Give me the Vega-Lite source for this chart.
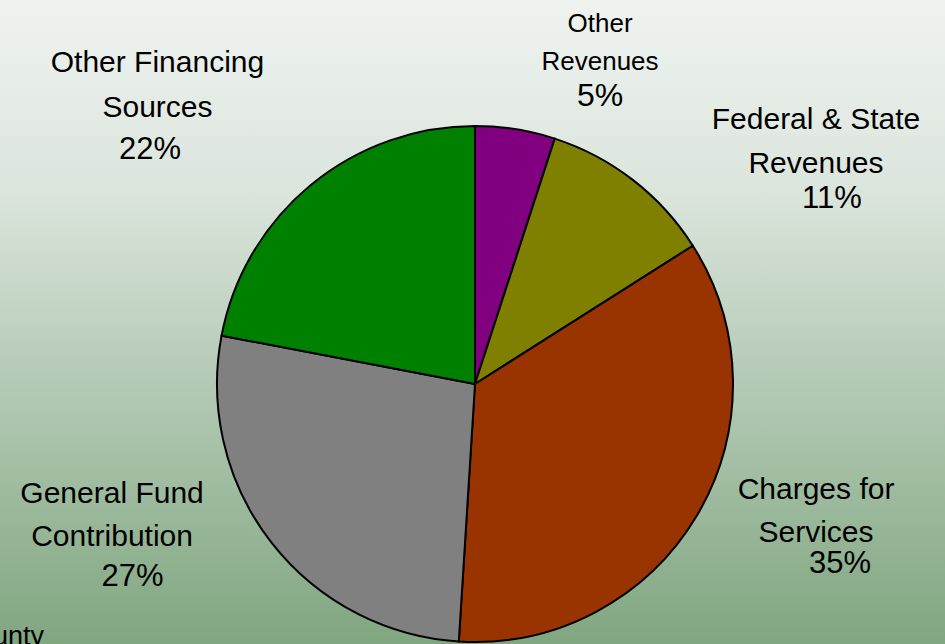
{
  "$schema": "https://vega.github.io/schema/vega-lite/v6.json",
  "width": 945,
  "height": 644,
  "autosize": {"type": "none"},
  "padding": 0,
  "background": "#c3d4c4",
  "config": {
    "view": {"stroke": null},
    "text": {"font": "Liberation Sans, Arial, sans-serif", "color": "#000000"}
  },
  "data": {
    "values": [
      {"category": "Other Revenues", "label": "Other\nRevenues", "value": 0.05, "rank": 1},
      {"category": "Federal & State Revenues", "label": "Federal & State\nRevenues", "value": 0.11, "rank": 2},
      {"category": "Charges for Services", "label": "Charges for\nServices", "value": 0.35, "rank": 3},
      {"category": "General Fund Contribution", "label": "General Fund\nContribution", "value": 0.27, "rank": 4},
      {"category": "Other Financing Sources", "label": "Other Financing\nSources", "value": 0.22, "rank": 5}
    ]
  },
  "layer": [
    {
      "data": {"values": [{"panel": "background"}]},
      "mark": {
        "type": "rect",
        "color": {
          "gradient": "linear",
          "x1": 0, "y1": 0, "x2": 0, "y2": 1,
          "stops": [
            {"offset": 0, "color": "#eff3f0"},
            {"offset": 0.3, "color": "#dbe5dc"},
            {"offset": 0.6, "color": "#b3c9b4"},
            {"offset": 1, "color": "#80a680"}
          ]
        }
      },
      "encoding": {
        "x": {"value": 0},
        "x2": {"value": "width"},
        "y": {"value": 0},
        "y2": {"value": "height"}
      }
    },
    {
      "mark": {"type": "arc", "radius": 258, "stroke": "#000000", "strokeWidth": 2, "xOffset": 2.5, "yOffset": 62},
      "encoding": {
        "theta": {"field": "value", "type": "quantitative", "stack": true, "scale": {"domain": [0, 1]}},
        "order": {"field": "rank", "type": "quantitative"},
        "color": {
          "field": "category", "type": "nominal", "legend": null,
          "scale": {
            "domain": ["Other Revenues", "Federal & State Revenues", "Charges for Services", "General Fund Contribution", "Other Financing Sources"],
            "range": ["#800080", "#808000", "#993300", "#808080", "#008000"]
          }
        }
      }
    },
    {
      "mark": {"type": "text", "radius": 300, "dx": 80.6, "dy": 6.3, "fontSize": 26, "align": "center", "baseline": "alphabetic", "lineBreak": "\n", "lineHeight": 38},
      "encoding": {
        "theta": {"field": "value", "type": "quantitative", "stack": true},
        "order": {"field": "rank", "type": "quantitative"},
        "text": {"condition": {"test": "datum.rank === 1", "field": "label"}, "value": ""}
      }
    },
    {
      "mark": {"type": "text", "radius": 300, "dx": 80.6, "dy": 80.3, "fontSize": 32, "align": "center", "baseline": "alphabetic"},
      "encoding": {
        "theta": {"field": "value", "type": "quantitative", "stack": true},
        "order": {"field": "rank", "type": "quantitative"},
        "text": {"condition": {"test": "datum.rank === 1", "field": "value", "format": ".0%"}, "value": ""}
      }
    },
    {
      "mark": {"type": "text", "radius": 300, "dx": 159.6, "dy": 44.1, "fontSize": 30, "align": "center", "baseline": "alphabetic", "lineBreak": "\n", "lineHeight": 44},
      "encoding": {
        "theta": {"field": "value", "type": "quantitative", "stack": true},
        "order": {"field": "rank", "type": "quantitative"},
        "text": {"condition": {"test": "datum.rank === 2", "field": "label"}, "value": ""}
      }
    },
    {
      "mark": {"type": "text", "radius": 300, "dx": 175.6, "dy": 123.1, "fontSize": 31, "align": "center", "baseline": "alphabetic"},
      "encoding": {
        "theta": {"field": "value", "type": "quantitative", "stack": true},
        "order": {"field": "rank", "type": "quantitative"},
        "text": {"condition": {"test": "datum.rank === 2", "field": "value", "format": ".0%"}, "value": ""}
      }
    },
    {
      "mark": {"type": "text", "radius": 300, "dx": 85.3, "dy": 24.3, "fontSize": 30, "align": "center", "baseline": "alphabetic", "lineBreak": "\n", "lineHeight": 43},
      "encoding": {
        "theta": {"field": "value", "type": "quantitative", "stack": true},
        "order": {"field": "rank", "type": "quantitative"},
        "text": {"condition": {"test": "datum.rank === 3", "field": "label"}, "value": ""}
      }
    },
    {
      "mark": {"type": "text", "radius": 300, "dx": 109.3, "dy": 98.3, "fontSize": 31, "align": "center", "baseline": "alphabetic"},
      "encoding": {
        "theta": {"field": "value", "type": "quantitative", "stack": true},
        "order": {"field": "rank", "type": "quantitative"},
        "text": {"condition": {"test": "datum.rank === 3", "field": "value", "format": ".0%"}, "value": ""}
      }
    },
    {
      "mark": {"type": "text", "radius": 300, "dx": -123.4, "dy": -2.9, "fontSize": 30, "align": "center", "baseline": "alphabetic", "lineBreak": "\n", "lineHeight": 43},
      "encoding": {
        "theta": {"field": "value", "type": "quantitative", "stack": true},
        "order": {"field": "rank", "type": "quantitative"},
        "text": {"condition": {"test": "datum.rank === 4", "field": "label"}, "value": ""}
      }
    },
    {
      "mark": {"type": "text", "radius": 300, "dx": -102.9, "dy": 80.1, "fontSize": 31, "align": "center", "baseline": "alphabetic"},
      "encoding": {
        "theta": {"field": "value", "type": "quantitative", "stack": true},
        "order": {"field": "rank", "type": "quantitative"},
        "text": {"condition": {"test": "datum.rank === 4", "field": "value", "format": ".0%"}, "value": ""}
      }
    },
    {
      "mark": {"type": "text", "radius": 300, "dx": -123.8, "dy": -19.2, "fontSize": 30, "align": "center", "baseline": "alphabetic", "lineBreak": "\n", "lineHeight": 45},
      "encoding": {
        "theta": {"field": "value", "type": "quantitative", "stack": true},
        "order": {"field": "rank", "type": "quantitative"},
        "text": {"condition": {"test": "datum.rank === 5", "field": "label"}, "value": ""}
      }
    },
    {
      "mark": {"type": "text", "radius": 300, "dx": -131.3, "dy": 68.1, "fontSize": 31, "align": "center", "baseline": "alphabetic"},
      "encoding": {
        "theta": {"field": "value", "type": "quantitative", "stack": true},
        "order": {"field": "rank", "type": "quantitative"},
        "text": {"condition": {"test": "datum.rank === 5", "field": "value", "format": ".0%"}, "value": ""}
      }
    },
    {
      "data": {"values": [{"note": "County"}]},
      "mark": {"type": "text", "dx": -428.5, "dy": 323, "fontSize": 27, "align": "right", "baseline": "alphabetic"},
      "encoding": {"text": {"field": "note"}}
    }
  ]
}
